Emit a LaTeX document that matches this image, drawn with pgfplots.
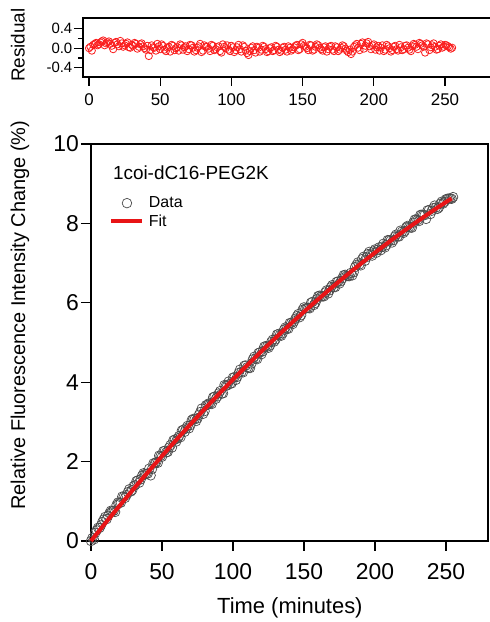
\documentclass[border=0pt]{standalone}
\usepackage{fontspec}
\setmainfont{Liberation Sans}
\usepackage{pgfplots}
\usepackage{pgfplotstable}
\pgfplotsset{compat=1.18}
\definecolor{fitred}{RGB}{232,20,22}
\definecolor{resred}{RGB}{250,30,30}
\definecolor{datagray}{RGB}{75,75,75}

% even minutes: time, data, fit, residual
\pgfplotstableread{
t data fit res
0 0.000 0.0000 0.00
2 0.040 0.0898 -0.05
4 0.269 0.1793 0.09
6 0.328 0.2684 0.06
8 0.477 0.3572 0.12
10 0.606 0.4457 0.16
12 0.634 0.5337 0.10
14 0.762 0.6215 0.14
16 0.759 0.7089 0.05
18 0.906 0.7959 0.11
20 0.963 0.8826 0.08
22 1.119 0.9690 0.15
24 1.085 1.0550 0.03
26 1.231 1.1407 0.09
28 1.246 1.2260 0.02
30 1.381 1.3109 0.07
32 1.506 1.3956 0.11
34 1.470 1.4798 -0.01
36 1.644 1.5638 0.08
38 1.687 1.6473 0.04
40 1.701 1.7306 -0.03
42 1.653 1.8134 -0.16
44 1.956 1.8960 0.06
46 1.988 1.9782 0.01
48 2.150 2.0600 0.09
50 2.122 2.1415 -0.02
52 2.273 2.2226 0.05
54 2.243 2.3034 -0.06
56 2.414 2.3839 0.03
58 2.534 2.4640 0.07
60 2.504 2.5438 -0.04
62 2.643 2.6232 0.02
64 2.782 2.7022 0.08
66 2.751 2.7810 -0.03
68 2.899 2.8593 0.04
70 2.917 2.9373 -0.02
72 3.075 3.0150 0.06
74 3.022 3.0923 -0.07
76 3.179 3.1693 0.01
78 3.336 3.2460 0.09
80 3.272 3.3222 -0.05
82 3.428 3.3982 0.03
84 3.464 3.4737 -0.01
86 3.619 3.5490 0.07
88 3.584 3.6239 -0.04
90 3.719 3.6985 0.02
92 3.713 3.7726 -0.06
94 3.927 3.8465 0.08
96 3.920 3.9201 0.00
98 3.963 3.9932 -0.03
100 4.116 4.0660 0.05
102 4.058 4.1384 -0.08
104 4.231 4.2105 0.02
106 4.262 4.2824 -0.02
108 4.414 4.3538 0.06
110 4.375 4.4249 -0.05
112 4.356 4.4956 -0.14
114 4.576 4.5659 0.01
116 4.596 4.6361 -0.04
118 4.736 4.7057 0.03
120 4.705 4.7750 -0.07
122 4.894 4.8440 0.05
124 4.893 4.9126 -0.02
126 4.921 4.9810 -0.06
128 5.069 5.0490 0.02
130 5.077 5.1165 -0.04
132 5.214 5.1838 0.03
134 5.171 5.2507 -0.08
136 5.327 5.3173 0.01
138 5.354 5.3835 -0.03
140 5.489 5.4494 0.04
142 5.465 5.5149 -0.05
144 5.600 5.5800 0.02
146 5.715 5.6449 0.07
148 5.689 5.7094 -0.02
150 5.884 5.7735 0.11
152 5.867 5.8373 0.03
154 5.861 5.9007 -0.04
156 6.024 5.9639 0.06
158 5.997 6.0266 -0.03
160 6.169 6.0890 0.08
162 6.161 6.1510 0.01
164 6.163 6.2126 -0.05
166 6.314 6.2741 0.04
168 6.315 6.3351 -0.02
170 6.446 6.3957 0.05
172 6.396 6.4560 -0.06
174 6.536 6.5160 0.02
176 6.546 6.5757 -0.03
178 6.695 6.6350 0.06
180 6.684 6.6938 -0.01
182 6.672 6.7524 -0.08
184 6.691 6.8106 -0.12
186 6.899 6.8686 0.03
188 7.016 6.9261 0.09
190 6.943 6.9833 -0.04
192 7.160 7.0401 0.12
194 7.147 7.0965 0.05
196 7.283 7.1528 0.13
198 7.189 7.2086 -0.02
200 7.344 7.2640 0.08
202 7.339 7.3191 0.02
204 7.324 7.3738 -0.05
206 7.488 7.4284 0.06
208 7.452 7.4824 -0.03
210 7.576 7.5361 0.04
212 7.519 7.5894 -0.07
214 7.672 7.6424 0.03
216 7.675 7.6952 -0.02
218 7.818 7.7475 0.07
220 7.759 7.7994 -0.04
222 7.901 7.8510 0.05
224 7.912 7.9023 0.01
226 7.893 7.9534 -0.06
228 8.094 8.0039 0.09
230 8.084 8.0541 0.03
232 8.214 8.1040 0.11
234 8.214 8.1535 0.06
236 8.113 8.2029 -0.09
238 8.332 8.2517 0.08
240 8.320 8.3002 0.02
242 8.448 8.3483 0.10
244 8.366 8.3960 -0.03
246 8.494 8.4437 0.05
248 8.501 8.4908 0.01
250 8.608 8.5375 0.07
252 8.624 8.5839 0.04
254 8.620 8.6299 -0.01
}\datatable

% odd minutes: time, data, residual
\pgfplotstableread{
t data res
1 0.075 0.03
3 0.205 0.07
5 0.334 0.11
7 0.393 0.08
9 0.542 0.14
11 0.550 0.06
13 0.698 0.12
15 0.755 0.09
17 0.732 -0.02
19 0.969 0.13
21 0.966 0.04
23 1.112 0.10
25 1.158 0.06
27 1.303 0.12
29 1.279 0.01
31 1.403 0.05
33 1.528 0.09
35 1.552 0.03
37 1.706 0.10
39 1.689 0.00
41 1.822 0.05
43 1.815 -0.04
45 1.957 0.02
47 1.969 -0.05
49 2.141 0.04
51 2.262 0.08
53 2.233 -0.03
55 2.354 0.01
57 2.354 -0.07
59 2.554 0.05
61 2.584 0.00
63 2.613 -0.05
65 2.802 0.06
67 2.840 0.02
69 2.838 -0.06
71 3.046 0.07
73 3.064 0.01
75 3.091 -0.04
77 3.248 0.04
79 3.204 -0.08
81 3.420 0.06
83 3.466 0.03
85 3.451 -0.06
87 3.637 0.05
89 3.641 -0.02
91 3.776 0.04
93 3.720 -0.09
95 3.913 0.03
97 4.017 0.06
99 3.970 -0.06
101 4.122 0.02
103 4.135 -0.04
105 4.317 0.07
107 4.248 -0.07
109 4.419 0.03
111 4.360 -0.10
113 4.471 -0.06
115 4.641 0.04
117 4.581 -0.09
119 4.750 0.01
121 4.780 -0.03
123 4.908 0.03
125 4.867 -0.08
127 5.015 0.00
129 5.023 -0.06
131 5.200 0.05
133 5.187 -0.03
135 5.234 -0.05
137 5.380 0.03
139 5.347 -0.07
141 5.492 0.01
143 5.528 -0.02
145 5.663 0.05
147 5.637 -0.04
149 5.822 0.08
151 5.855 0.05
153 5.869 0.00
155 6.002 0.07
157 5.945 -0.05
159 6.088 0.03
161 6.180 0.06
163 6.162 -0.02
165 6.263 0.02
167 6.235 -0.07
169 6.395 0.03
171 6.396 -0.03
173 6.526 0.04
175 6.486 -0.06
177 6.615 0.01
179 6.704 0.04
181 6.673 -0.05
183 6.752 -0.03
185 6.770 -0.07
187 6.957 0.06
189 6.965 0.01
191 7.102 0.09
193 7.058 -0.01
195 7.225 0.10
197 7.221 0.04
199 7.296 0.06
201 7.262 -0.03
203 7.396 0.05
205 7.411 0.01
207 7.395 -0.06
209 7.579 0.07
211 7.563 0.00
213 7.576 -0.04
215 7.719 0.05
217 7.671 -0.05
219 7.793 0.02
221 7.805 -0.02
223 7.937 0.06
225 7.898 -0.03
227 8.019 0.04
229 8.099 0.07
231 8.059 -0.02
233 8.219 0.09
235 8.208 0.03
237 8.327 0.10
239 8.236 -0.04
241 8.384 0.06
243 8.402 0.03
245 8.400 -0.02
247 8.547 0.08
249 8.544 0.03
251 8.621 0.06
253 8.627 0.02
255 8.663 0.01
}\oddtable

\begin{document}
\begin{tikzpicture}
% ---------------- residual panel ----------------
\begin{axis}[
  at={(83bp,545bp)}, anchor=south west,
  width=420bp, height=59bp, scale only axis,
  xmin=-4.2, xmax=290.7, ymin=-0.59, ymax=0.62,
  xtick={0,50,...,250}, ytick={-0.4,0,0.4}, minor ytick={-0.2,0.2},
  xtick pos=bottom, ytick pos=left,
  tick align=outside, major tick length=9bp, minor tick length=5bp,
  every tick/.style={black, line width=1.1bp},
  axis line style={line width=1.1bp},
  /pgf/number format/assume math mode=true,
  yticklabel style={font=\fontsize{15}{15}\selectfont, inner sep=1.5bp,
    /pgf/number format/.cd, fixed, fixed zerofill, precision=1},
  xticklabel style={font=\fontsize{17}{17}\selectfont, inner sep=2bp, yshift=-5bp},
  ylabel={Residual},
  ylabel style={font=\fontsize{19}{19}\selectfont, at={(axis description cs:-0.155,0.54)}, anchor=center, rotate=0},
  clip=false,
]
\addplot[only marks, mark=o, mark size=3.6bp, mark options={draw=resred, line width=0.8bp}] table[x=t, y=res] {\datatable};
\addplot[only marks, mark=o, mark size=3.6bp, mark options={draw=resred, line width=0.8bp}] table[x=t, y=res] {\oddtable};
\end{axis}
% ---------------- main panel ----------------
\begin{axis}[
  at={(91bp,81bp)}, anchor=south west,
  width=397bp, height=397bp, scale only axis,
  xmin=0, xmax=279.6, ymin=0, ymax=10,
  xtick={0,50,...,250}, ytick={0,2,...,10},
  xtick pos=bottom, ytick pos=left,
  tick align=outside, major tick length=10bp,
  every tick/.style={black, line width=1.1bp},
  axis line style={line width=1.1bp},
  /pgf/number format/assume math mode=true,
  tick label style={font=\fontsize{23}{23}\selectfont},
  yticklabel style={inner sep=2bp},
  xticklabel style={inner sep=4bp, yshift=-8bp},
  xlabel={Time (minutes)},
  xlabel style={font=\fontsize{22}{22}\selectfont, at={(axis description cs:0.501,-0.168)}, anchor=center},
  ylabel={Relative Fluorescence Intensity Change (\%)},
  ylabel style={font=\fontsize{20}{20}\selectfont, at={(axis description cs:-0.179,0.569)}, anchor=center},
  clip=false, clip marker paths=true,
  legend image code/.code={\draw[mark repeat=2,mark phase=2,#1] plot coordinates {(0bp,0bp) (15.5bp,0bp) (31bp,0bp)};},
  legend style={at={(axis description cs:0.046,0.871)}, anchor=north west, draw=none, fill=none,
    inner sep=0pt, row sep=2.5bp, column sep=3bp, font=\fontsize{16}{17}\selectfont,
    nodes={inner sep=1.5bp}},
  legend cell align=left,
]
\addplot[only marks, mark=o, mark size=4.8bp, mark options={draw=datagray, line width=0.7bp}] table[x=t, y=data] {\datatable};
\addlegendentry{Data}
\addplot[only marks, mark=o, mark size=4.8bp, mark options={draw=datagray, line width=0.7bp}, forget plot] table[x=t, y=data] {\oddtable};
\addplot[fitred, line width=4bp, no marks] table[x=t, y=fit] {\datatable};
\addlegendentry{Fit}
\node[anchor=west, font=\fontsize{19}{19}\selectfont, inner sep=0pt] at (axis description cs:0.055,0.927) {1coi-dC16-PEG2K};
\end{axis}
\pgfresetboundingbox
\useasboundingbox (0,0) rectangle (490bp,622bp);
\end{tikzpicture}
\end{document}
